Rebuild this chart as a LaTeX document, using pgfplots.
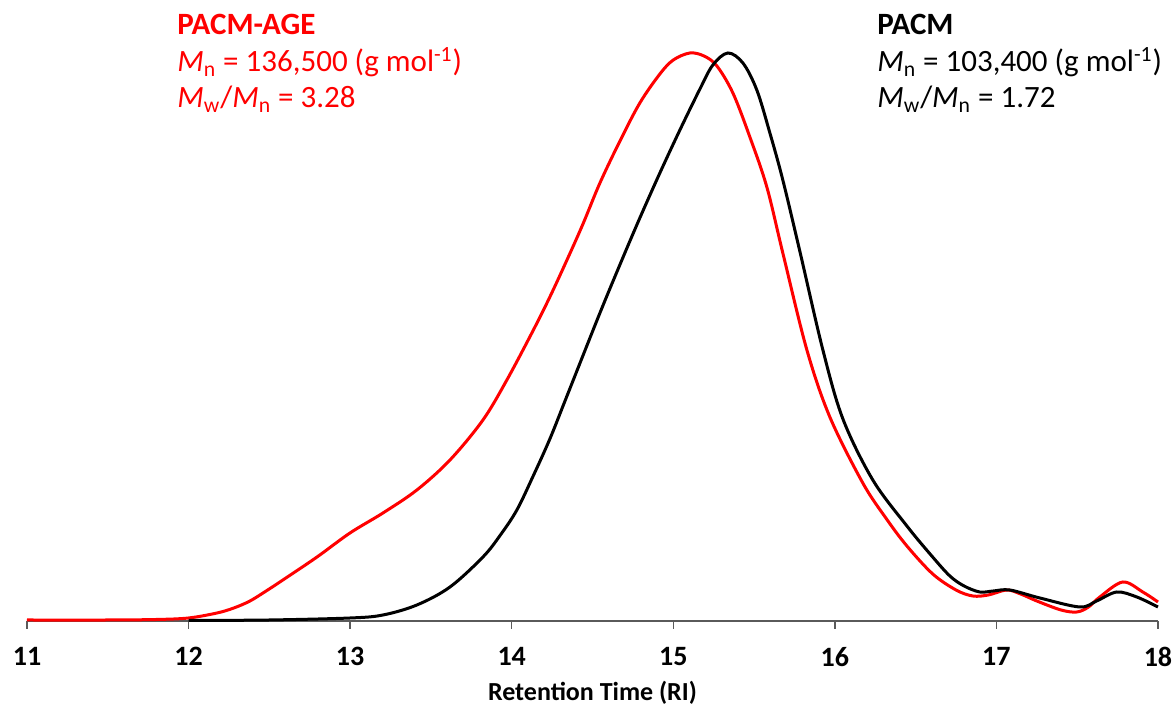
\documentclass[border=0pt]{standalone}
\usepackage{fontspec}
\setmainfont{Carlito}
\usepackage{pgfplots}
\pgfplotsset{compat=1.18}
\definecolor{axgray}{RGB}{90,90,90}
\begin{document}
\begin{tikzpicture}
\begin{axis}[
  scale only axis, width=565.5pt, height=310.5pt,
  xmin=11, xmax=18, ymin=0, ymax=621,
  axis x line=bottom, axis y line=none,
  axis line style={draw=axgray, line width=0.75pt, -},
  xtick={11,12,13,14,15,16,17,18},
  tick align=outside, major tick length=4pt,
  tick style={draw=axgray, line width=0.75pt},
  /pgf/number format/assume math mode=true,
  xticklabel style={font=\fontsize{14}{16}\selectfont\bfseries, yshift=-5.5pt},
  xlabel={Retention Time (RI)},
  xlabel style={font=\fontsize{13}{15}\selectfont\bfseries, at={(axis description cs:0.5,0)}, anchor=base, yshift=-40pt},
  clip=false,
]
\addplot[red, line width=1.5pt, smooth, tension=0.55] coordinates {
(11,1) (11.5,1) (11.8,1.5) (12.0,3) (12.176,8) (12.28,13) (12.380,20) (12.48,30) (12.584,41) (12.795,64) (12.999,88)
(13.203,108) (13.413,131) (13.618,161) (13.822,201) (13.970,241) (14.131,290)
(14.236,324) (14.342,361) (14.441,397) (14.546,438) (14.670,480) (14.793,518)
(14.917,547) (15.0,561) (15.103,568) (15.19,565) (15.270,555) (15.369,528) (15.474,484)
(15.579,434) (15.678,368) (15.827,271) (15.969,204) (16.173,138) (16.32,102) (16.446,75)
(16.606,47) (16.75,31) (16.854,25) (16.95,26) (17.064,31) (17.15,27) (17.250,20)
(17.40,11) (17.498,9) (17.57,14) (17.640,24) (17.782,39) (17.906,29) (18.0,19)
};
\addplot[black, line width=1.5pt, smooth, tension=0.55] coordinates {
(12.0,0.5) (12.5,1) (13.0,3) (13.203,6) (13.413,16) (13.618,34) (13.822,64) (13.93,86)
(14.032,111) (14.13,144) (14.236,182) (14.342,225) (14.546,308) (14.682,361) (14.793,403)
(14.917,448) (15.041,491) (15.165,532) (15.245,556) (15.338,568) (15.431,558)
(15.517,531) (15.598,488) (15.678,441) (15.783,370) (15.926,271) (16.05,202)
(16.235,141) (16.446,95) (16.60,65) (16.712,45) (16.80,35) (16.897,29) (16.98,30) (17.083,31)
(17.269,23) (17.516,14) (17.62,20) (17.745,29) (17.869,24) (18.0,14)
};
\node[anchor=base west, inner sep=0pt, text=red, font=\fontsize{15.5}{18}\selectfont\bfseries] at (axis cs:11.928,586) {PACM-AGE};
\node[anchor=base west, inner sep=0pt, text=red, font=\fontsize{15.5}{18}\selectfont] at (axis cs:11.928,549) {{\itshape M}\textsubscript{n} = 136,500 (g mol\textsuperscript{-1})};
\node[anchor=base west, inner sep=0pt, text=red, font=\fontsize{15.5}{18}\selectfont] at (axis cs:11.928,513) {{\itshape M}\textsubscript{w}/{\itshape M}\textsubscript{n} = 3.28};
\node[anchor=base west, inner sep=0pt, text=black, font=\fontsize{15.5}{18}\selectfont\bfseries] at (axis cs:16.26,586) {PACM};
\node[anchor=base west, inner sep=0pt, text=black, font=\fontsize{15.5}{18}\selectfont] at (axis cs:16.26,549) {{\itshape M}\textsubscript{n} = 103,400 (g mol\textsuperscript{-1})};
\node[anchor=base west, inner sep=0pt, text=black, font=\fontsize{15.5}{18}\selectfont] at (axis cs:16.26,513) {{\itshape M}\textsubscript{w}/{\itshape M}\textsubscript{n} = 1.72};
\end{axis}
\pgfresetboundingbox
\useasboundingbox (-13.5pt,-42.5pt) rectangle (574pt,310.5pt);
\end{tikzpicture}
\end{document}
